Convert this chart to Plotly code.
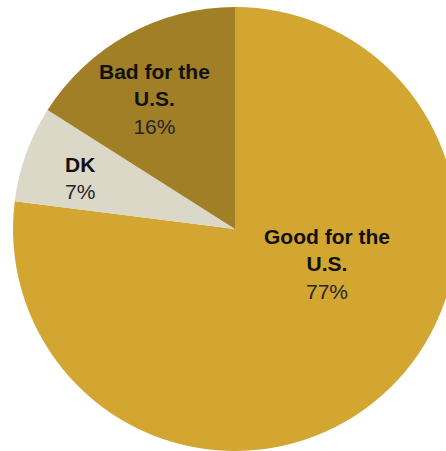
import plotly.graph_objects as go

labels = ["Good for the<br>U.S.", "DK", "Bad for the<br>U.S."]
values = [77, 7, 16]
colors = ["#D2A631", "#DBD8C8", "#A07F26"]
# label anchor positions (paper fractions) for text placement
label_x = [0.716, 0.175, 0.337]
label_y = [0.415, 0.605, 0.78]

W, H = 457, 451

fig = go.Figure(go.Pie(
    labels=labels,
    values=values,
    marker=dict(colors=colors, line=dict(width=0)),
    sort=False,
    direction="clockwise",
    rotation=0,
    textinfo="none",
    hoverinfo="skip",
    domain=dict(x=[13 / W, 1], y=[0, 1 - 7 / H]),
))

for lab, v, x, y in zip(labels, values, label_x, label_y):
    fig.add_annotation(
        x=x, y=y, xref="paper", yref="paper",
        text=f"<b>{lab}</b><br><span style='color:#262626;font-weight:normal'>{v}%</span>",
        showarrow=False, align="center",
        font=dict(family="Liberation Sans, Arial, sans-serif", size=21, color="#111111"),
        xanchor="center", yanchor="middle",
    )

fig.update_layout(
    width=W, height=H,
    margin=dict(l=0, r=0, t=0, b=0),
    showlegend=False,
    paper_bgcolor="white",
    plot_bgcolor="white",
)

fig.write_html(
    "out.html",
    config={"displayModeBar": False, "staticPlot": True},
    post_script="document.body.style.margin='0';document.body.style.overflow='hidden';document.documentElement.style.overflow='hidden';",
)
